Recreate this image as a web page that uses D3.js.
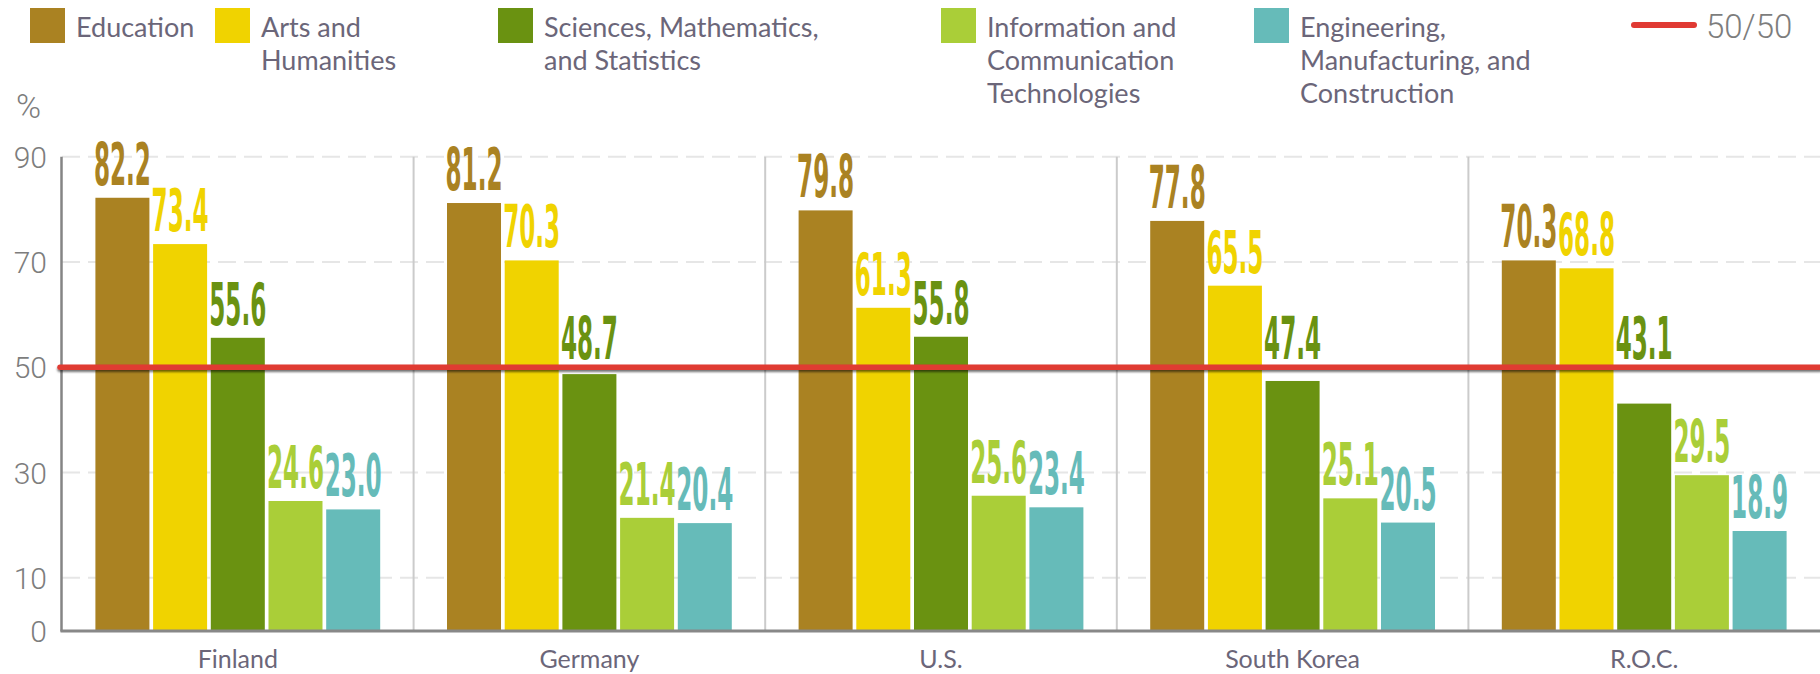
<!DOCTYPE html>
<html>
<head>
<meta charset="utf-8">
<script src="https://cdn.jsdelivr.net/npm/d3@7"></script>
<style>
  body { margin: 0; background: #fff; }
  svg { display: block; }
</style>
</head>
<body>
<div id="chart"></div>
<script>
// values (% women graduates by field)
var countries = ["Finland", "Germany", "U.S.", "South Korea", "R.O.C."];
var fields = ["Education", "Arts and Humanities", "Sciences, Mathematics, and Statistics",
  "Information and Communication Technologies", "Engineering, Manufacturing, and Construction"];
var education = [82.2, 81.2, 79.8, 77.8, 70.3];
var arts = [73.4, 70.3, 61.3, 65.5, 68.8];
var sciences = [55.6, 48.7, 55.8, 47.4, 43.1];
var ict = [24.6, 21.4, 25.6, 25.1, 29.5];
var engineering = [23.0, 20.4, 23.4, 20.5, 18.9];
var yTicks = [0, 10, 30, 50, 70, 90];
var parity = 50;
var legendLines = [
  ["Education"],
  ["Arts and", "Humanities"],
  ["Sciences, Mathematics,", "and Statistics"],
  ["Information and", "Communication", "Technologies"],
  ["Engineering,", "Manufacturing, and", "Construction"]
];
var colors = ["#aa8222", "#f0d300", "#6a9211", "#aace38", "#66bbb9"];

function drawChart() {
  var width = 1820, height = 674;
  var margin = { top: 156.7, right: 0, bottom: 43.5, left: 62 };

  var svg = d3.select("#chart").append("svg")
    .attr("width", width)
    .attr("height", height);

  var series = [education, arts, sciences, ict, engineering];
  var rows = countries.map(function (c, i) {
    return { country: c, values: series.map(function (s, j) { return { field: fields[j], value: s[i], k: j }; }) };
  });

  var x0 = d3.scaleBand().domain(countries).range([margin.left, width - margin.right]);
  var x1 = d3.scaleBand().domain(fields).range([0, x0.bandwidth()])
    .paddingInner(0.064).paddingOuter(0.579);
  var y = d3.scaleLinear().domain([0, 90]).range([height - margin.bottom, margin.top]);

  // shadow under the 50/50 line (user space, a horizontal line has no bbox height)
  var defs = svg.append("defs");
  var f = defs.append("filter").attr("id", "lineShadow")
    .attr("filterUnits", "userSpaceOnUse")
    .attr("x", 0).attr("y", y(parity) - 12).attr("width", width).attr("height", 24);
  f.append("feDropShadow").attr("dx", 0).attr("dy", 2).attr("stdDeviation", 1.3)
    .attr("flood-color", "#000").attr("flood-opacity", 0.55);

  // dashed gridlines
  svg.append("g").selectAll("line")
    .data(yTicks.filter(function (t) { return t > 0; }))
    .enter().append("line")
    .attr("x1", margin.left).attr("x2", width)
    .attr("y1", function (d) { return y(d); })
    .attr("y2", function (d) { return y(d); })
    .style("stroke", "#e6e6e6")
    .style("stroke-width", 2)
    .style("stroke-dasharray", "18,8");

  // group separators
  svg.append("g").selectAll("line")
    .data(countries.slice(1))
    .enter().append("line")
    .attr("x1", function (d) { return x0(d); })
    .attr("x2", function (d) { return x0(d); })
    .attr("y1", y(90)).attr("y2", y(0))
    .style("stroke", "#cbcbcb")
    .style("stroke-width", 2);

  // bars
  var groups = svg.append("g").selectAll("g")
    .data(rows)
    .enter().append("g")
    .attr("transform", function (d) { return "translate(" + x0(d.country) + ",0)"; });

  groups.selectAll("rect")
    .data(function (d) { return d.values; })
    .enter().append("rect")
    .attr("x", function (d) { return x1(d.field); })
    .attr("y", function (d) { return y(d.value); })
    .attr("width", x1.bandwidth())
    .attr("height", function (d) { return y(0) - y(d.value); })
    .style("fill", function (d) { return colors[d.k]; });

  // value labels; ones that would sit on the 50/50 line are lifted above it
  var labelY = function (d) {
    var base = y(d.value) - 13;
    if (base > y(parity) - 8 && base - 42 < y(parity) + 4) base = y(parity) - 8;
    return base;
  };
  groups.selectAll("text")
    .data(function (d) { return d.values; })
    .enter().append("text")
    .attr("x", function (d) { return x1(d.field) + x1.bandwidth() / 2; })
    .attr("y", labelY)
    .attr("text-anchor", "middle")
    .attr("textLength", 57)
    .attr("lengthAdjust", "spacingAndGlyphs")
    .style("font-family", "'Liberation Sans Narrow', 'DejaVu Sans Condensed', sans-serif")
    .style("font-weight", "bold")
    .style("font-size", "59px")
    .style("fill", function (d) { return colors[d.k]; })
    .text(function (d) { return d.value.toFixed(1); });

  // axes lines
  svg.append("line")
    .attr("x1", margin.left - 0.5).attr("x2", margin.left - 0.5)
    .attr("y1", y(90)).attr("y2", y(0) + 1)
    .style("stroke", "#858585").style("stroke-width", 2.5);
  svg.append("line")
    .attr("x1", margin.left - 1.5).attr("x2", width)
    .attr("y1", y(0) + 0.5).attr("y2", y(0) + 0.5)
    .style("stroke", "#888").style("stroke-width", 3);

  // y tick labels
  svg.append("g").selectAll("text")
    .data(yTicks)
    .enter().append("text")
    .attr("x", 47)
    .attr("y", function (d) { return y(d) + 11; })
    .attr("text-anchor", "end")
    .style("font-family", "Roboto, sans-serif")
    .style("font-weight", 300)
    .style("font-size", "30px")
    .style("fill", "#7d7d7d")
    .text(function (d) { return d; });

  svg.append("text")
    .attr("x", 16).attr("y", 118)
    .style("font-family", "Roboto, sans-serif")
    .style("font-weight", 300)
    .style("font-size", "34px")
    .style("fill", "#7d7d7d")
    .text("%");

  // 50/50 line
  svg.append("line")
    .attr("x1", margin.left - 2).attr("x2", width)
    .attr("y1", y(parity)).attr("y2", y(parity))
    .attr("filter", "url(#lineShadow)")
    .style("stroke", "#e03a33")
    .style("stroke-width", 5.5)
    .style("stroke-linecap", "round");

  // country labels
  svg.append("g").selectAll("text")
    .data(countries)
    .enter().append("text")
    .attr("x", function (d) { return x0(d) + x0.bandwidth() / 2; })
    .attr("y", 668)
    .attr("text-anchor", "middle")
    .style("font-family", "Lato, sans-serif")
    .style("font-size", "25px")
    .style("fill", "#6b6679")
    .text(function (d) { return d; });

  // legend
  var legendX = [30, 215, 498, 941, 1254];
  var legend = svg.append("g").attr("class", "legend");
  var item = legend.selectAll("g")
    .data(fields)
    .enter().append("g")
    .attr("transform", function (d, i) { return "translate(" + legendX[i] + ",8)"; });
  item.append("rect")
    .attr("width", 35).attr("height", 35)
    .style("fill", function (d, i) { return colors[i]; });
  item.each(function (d, i) {
    var t = d3.select(this).append("text")
      .attr("x", 46).attr("y", 28.5)
      .style("font-family", "Lato, sans-serif")
      .style("font-size", "27px")
      .style("fill", "#6b6679");
    legendLines[i].forEach(function (line, j) {
      t.append("tspan").attr("x", 46).attr("dy", j === 0 ? 0 : 33.3).text(line);
    });
  });

  legend.append("line")
    .attr("x1", 1634).attr("x2", 1694).attr("y1", 25).attr("y2", 25)
    .style("stroke", "#e03a33").style("stroke-width", 6)
    .style("stroke-linecap", "round");
  legend.append("text")
    .attr("x", 1706).attr("y", 37.5)
    .style("font-family", "Roboto, sans-serif")
    .style("font-weight", 300)
    .style("font-size", "33px")
    .style("fill", "#7d7d7d")
    .text("50/50");
}

drawChart();
</script>
</body>
</html>
